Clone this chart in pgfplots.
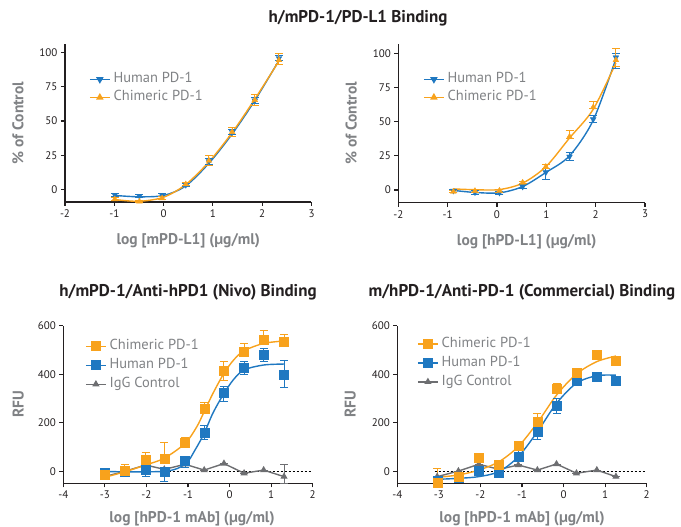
\documentclass[border=0pt]{standalone}
\usepackage{pgfplots}
\usepackage{pgfplotstable}
\pgfplotsset{compat=1.18}
\usepackage{fontspec}
\setmainfont{PT Sans}
\definecolor{pblue}{HTML}{1F78C1}
\definecolor{porange}{HTML}{F8A21C}
\definecolor{pgrayd}{HTML}{6D6E71}
\definecolor{plabel}{HTML}{808285}
\definecolor{ptext}{HTML}{231F20}

% ---- data: x y err+ err- ----
\pgfplotstableread{
x y ep em
-0.99 -4.1 1 1
-0.49 -4.9 1 1
-0.03 -4.1 1 1
0.45 3.2 1 1
0.92 20.5 2 2
1.39 42 2 2
1.85 65 2 2
2.34 96 2 2
}\tlhuman
\pgfplotstableread{
x y ep em
-0.99 -7.3 1 1
-0.49 -9 1 1
-0.03 -6.6 1 1
0.45 3.7 1 1
0.92 21 3.5 3.5
1.39 42 3 3
1.85 65.4 3.7 3.7
2.34 94.6 5 3
}\tlchim
\pgfplotstableread{
x y ep em
-0.885 -0.5 1 1
-0.446 -1.7 1.5 1.5
0.05 -2 1 1
0.52 2.4 1.5 1.5
0.99 12.9 3 5
1.47 24.4 3 3
1.95 51.7 2.5 2.5
2.41 97 3 8
}\trhuman
\pgfplotstableread{
x y ep em
-0.885 -1.2 1 1
-0.446 -0.7 1 1
0.05 -0.5 1 1
0.52 5.4 1 1
0.99 17 1.5 1.5
1.47 39 4.5 1
1.95 60.5 4.5 1
2.41 95 8.6 5
}\trchim
\pgfplotstableread{
x y ep em
-3.01 -15 8 8
-2.52 3 25 3
-2.02 47 30 3
-1.57 51 67 3
-1.07 119 20 3
-0.61 257 27 3
-0.135 413 40 38
0.35 494 33 3
0.82 544 38 3
1.31 533 29 19
}\blchim
\pgfplotstableread{
x y ep em
-3.01 -5 3 3
-2.52 -1 3 6
-2.02 5 3 27
-1.57 -1 3 42
-1.07 43 20 28
-0.61 161 27 28
-0.135 323 26 36
0.35 427 26 30
0.82 479 28 27
1.31 397 58 52
}\blhuman
\pgfplotstableread{
x y ep em
-3.01 -22 0 0
-2.52 0 0 0
-2.02 26 0 0
-1.57 8 0 0
-1.07 29 0 0
-0.61 5 0 0
-0.135 32 0 0
0.35 -8 0 0
0.82 5 0 0
1.31 -22 51 30
}\bligg
\pgfplotstableread{
x y ep em
-3.04 -49 59 3
-2.53 -22 3 3
-2.04 56 3 3
-1.55 26 3 3
-1.09 106 3 3
-0.63 206 33 3
-0.17 340 22 3
0.31 406 3 3
0.80 479 3 3
1.26 454 3 3
}\brchim
\pgfplotstableread{
x y ep em
-3.04 -40 3 3
-2.53 -25 3 3
-2.04 3 3 3
-1.55 -5 3 3
-1.09 60 28 3
-0.63 163 27 30
-0.17 269 32 30
0.31 374 3 3
0.80 390 3 3
1.26 374 3 3
}\brhuman
\pgfplotstableread{
x y ep em
-3.04 -22 0 0
-2.53 1 0 0
-2.04 29 0 0
-1.55 8 0 0
-1.09 26 0 0
-0.63 5 0 0
-0.17 30 0 0
0.31 -8 0 0
0.80 5 0 0
1.26 -22 0 0
}\brigg

\pgfplotsset{
 prism/.style={
  scale only axis,
  axis x line*=bottom, axis y line*=left,
  axis line style={ptext, line width=1.3pt, -},
  every tick/.style={ptext, line width=1.1pt},
  tick align=outside, major tick length=4pt,
  tick label style={font=\fontsize{11}{12}\selectfont, text=ptext},
  /pgf/number format/assume math mode=true,
  xlabel style={font=\bfseries\fontsize{15.5}{17}\selectfont, text=plabel, at={(axis description cs:0.5,0)}, anchor=center},
  ylabel style={font=\bfseries\fontsize{15.5}{17}\selectfont, text=plabel, at={(axis description cs:0,0.5)}, anchor=center},
  title style={font=\bfseries\fontsize{17}{19}\selectfont, text=ptext, at={(axis description cs:0.5,1)}, anchor=center, yshift=27pt},
  legend style={draw=none, fill=none, font=\fontsize{14.5}{16}\selectfont, text=plabel, anchor=north west,
     nodes={inner ysep=0pt, inner xsep=3pt, text height=10pt, text depth=3pt}, row sep=5pt},
  legend cell align=left,
  legend image code/.code={\draw[mark repeat=2,mark phase=2,#1] plot coordinates {(0pt,0pt) (10pt,0pt) (20pt,0pt)};},
  clip=false,
 },
 ebar/.style={error bars/.cd, y dir=both, y explicit,
   error bar style={line width=1pt}, error mark options={rotate=90, mark size=4pt, line width=1pt}},
 curve/.style={line width=1.4pt, smooth, no marks, forget plot},
}

\begin{document}
\begin{tikzpicture}[x=1pt,y=1pt]
\useasboundingbox (0,0) rectangle (681,527);
\node[font=\bfseries\fontsize{17}{19}\selectfont, text=ptext] at (358,509) {h/mPD-1/PD-L1 Binding};

% ---------- top left ----------
\begin{axis}[prism, at={(65pt,325pt)}, anchor=south west, width=246.5pt, height=158pt,
  xmin=-2, xmax=3, ymin=-9.3, ymax=106.4,
  xtick={-2,-1,0,1,2,3}, xticklabels={-2,-1,0,1,2,3},
  ytick={0,25,50,75,100},
  xlabel={log [mPD-L1] (µg/ml)}, ylabel={\% of Control},
  xlabel style={yshift=-39pt}, ylabel style={yshift=47pt},
  legend style={at={(0.085,0.831)}}]
\addplot[curve, pblue] coordinates {(-0.99,-4.5) (-0.5,-5.5) (0,-4.5) (0.45,2.5) (0.93,19.5) (1.4,41) (1.85,65) (2.35,95)};
\addplot[curve, porange] coordinates {(-0.99,-7.5) (-0.5,-8.8) (0,-5.8) (0.45,3.5) (0.93,20.5) (1.4,42) (1.85,66) (2.35,94.5)};
\addplot[only marks, pblue, mark=triangle*, mark options={rotate=180, mark size=3.3pt}, forget plot, ebar]
  table[x=x, y=y, y error plus=ep, y error minus=em] {\tlhuman};
\addplot[only marks, porange, mark=triangle*, mark options={mark size=3.3pt}, forget plot, ebar]
  table[x=x, y=y, y error plus=ep, y error minus=em] {\tlchim};
\addlegendimage{pblue, line width=1.4pt, mark=triangle*, mark options={rotate=180, mark size=3pt}}
\addlegendentry{Human PD-1}
\addlegendimage{porange, line width=1.4pt, mark=triangle*, mark options={mark size=3pt}}
\addlegendentry{Chimeric PD-1}
\end{axis}

% ---------- top right ----------
\begin{axis}[prism, at={(398.3pt,324.3pt)}, anchor=south west, width=246.7pt, height=158.7pt,
  xmin=-2, xmax=3, ymin=-9.3, ymax=106.8,
  xtick={-2,-1,0,1,2,3}, xticklabels={-2,-1,0,1,2,3},
  ytick={0,25,50,75,100},
  xlabel={log [hPD-L1] (µg/ml)}, ylabel={\% of Control},
  xlabel style={yshift=-39pt, xshift=5pt}, ylabel style={yshift=47pt},
  legend style={at={(0.088,0.832)}}]
\addplot[curve, pblue] coordinates {(-0.885,-0.3) (-0.45,-1.8) (0.05,-2.1) (0.52,2.5) (0.99,12.8) (1.47,25) (1.95,51) (2.41,96)};
\addplot[curve, porange] coordinates {(-0.885,0.8) (-0.45,0.2) (0.05,0.3) (0.52,5) (0.99,17) (1.47,38) (1.95,59) (2.41,93)};
\addplot[only marks, pblue, mark=triangle*, mark options={rotate=180, mark size=3.3pt}, forget plot, ebar]
  table[x=x, y=y, y error plus=ep, y error minus=em] {\trhuman};
\addplot[only marks, porange, mark=triangle*, mark options={mark size=3.3pt}, forget plot, ebar]
  table[x=x, y=y, y error plus=ep, y error minus=em] {\trchim};
\addlegendimage{pblue, line width=1.4pt, mark=triangle*, mark options={rotate=180, mark size=3pt}}
\addlegendentry{Human PD-1}
\addlegendimage{porange, line width=1.4pt, mark=triangle*, mark options={mark size=3pt}}
\addlegendentry{Chimeric PD-1}
\end{axis}

% ---------- bottom left ----------
\begin{axis}[prism, at={(63.3pt,43.7pt)}, anchor=south west, width=249.4pt, height=157.6pt,
  xmin=-4, xmax=2, ymin=-49.4, ymax=600,
  xtick={-4,-3,-2,-1,0,1,2}, xticklabels={-4,-3,-2,-1,0,1,2},
  ytick={0,200,400,600},
  title={h/mPD-1/Anti-hPD1 (Nivo) Binding},
  xlabel={log [hPD-1 mAb] (µg/ml)}, ylabel={RFU},
  xlabel style={yshift=-35pt, xshift=4pt}, ylabel style={yshift=45pt},
  legend style={at={(0.075,0.925)}, row sep=6pt}]
\addplot[black, line width=0.9pt, dash pattern=on 2pt off 2pt, forget plot] coordinates {(-3.1,0) (2,0)};
\addplot[pgrayd, line width=1.4pt, mark=triangle*, mark options={mark size=2.8pt}, forget plot, ebar]
  table[x=x, y=y, y error plus=ep, y error minus=em] {\bligg};
\addplot[curve, pblue] coordinates {(-3.01,-1) (-1.57,0) (-1.07,29) (-0.83,88) (-0.61,157) (-0.4,240) (-0.135,321) (0.1,379) (0.35,418) (0.82,438) (1.31,442)};
\addplot[curve, porange] coordinates {(-3.01,-25) (-2.52,-2) (-2.02,26) (-1.57,54) (-1.07,115) (-0.79,183) (-0.61,246) (-0.4,321) (-0.135,404) (0.1,459) (0.35,497) (0.82,527) (1.31,537)};
\addplot[only marks, pblue, mark=square*, mark options={mark size=4.5pt}, forget plot, ebar]
  table[x=x, y=y, y error plus=ep, y error minus=em] {\blhuman};
\addplot[only marks, porange, mark=square*, mark options={mark size=4.5pt}, forget plot, ebar]
  table[x=x, y=y, y error plus=ep, y error minus=em] {\blchim};
\addlegendimage{porange, line width=1.4pt, mark=square*, mark options={mark size=4.3pt}}
\addlegendentry{Chimeric PD-1}
\addlegendimage{pblue, line width=1.4pt, mark=square*, mark options={mark size=4.3pt}}
\addlegendentry{Human PD-1}
\addlegendimage{pgrayd, line width=1.4pt, mark=triangle*, mark options={mark size=2.8pt}}
\addlegendentry{IgG Control}
\end{axis}

% ---------- bottom right ----------
\begin{axis}[prism, at={(397.3pt,43.7pt)}, anchor=south west, width=249.4pt, height=157.6pt,
  xmin=-4, xmax=2, ymin=-49.4, ymax=600,
  xtick={-4,-3,-2,-1,0,1,2}, xticklabels={-4,-3,-2,-1,0,1,2},
  ytick={0,200,400,600},
  title={m/hPD-1/Anti-PD-1 (Commercial) Binding},
  xlabel={log [hPD-1 mAb] (µg/ml)}, ylabel={RFU},
  xlabel style={yshift=-35pt}, ylabel style={yshift=47pt},
  legend style={at={(0.067,0.94)}, row sep=6pt}]
\addplot[black, line width=0.9pt, dash pattern=on 2pt off 2pt, forget plot] coordinates {(-3.1,0) (2,0)};
\addplot[pgrayd, line width=1.4pt, mark=triangle*, mark options={mark size=2.8pt}, forget plot, ebar]
  table[x=x, y=y, y error plus=ep, y error minus=em] {\brigg};
\addplot[curve, pblue] coordinates {(-3.04,-33) (-2.53,-29) (-2.04,-22) (-1.55,-1) (-1.09,60) (-0.63,163) (-0.17,280) (0.31,363) (0.8,394) (1.26,396)};
\addplot[curve, porange] coordinates {(-3.04,-25) (-2.53,-15) (-2.04,5) (-1.55,40) (-1.09,102) (-0.63,200) (-0.17,314) (0.31,401) (0.8,452) (1.26,475)};
\addplot[only marks, pblue, mark=square*, mark options={mark size=4.5pt}, forget plot, ebar]
  table[x=x, y=y, y error plus=ep, y error minus=em] {\brhuman};
\addplot[only marks, porange, mark=square*, mark options={mark size=4.5pt}, forget plot, ebar]
  table[x=x, y=y, y error plus=ep, y error minus=em] {\brchim};
\addlegendimage{porange, line width=1.4pt, mark=square*, mark options={mark size=4.3pt}}
\addlegendentry{Chimeric PD-1}
\addlegendimage{pblue, line width=1.4pt, mark=square*, mark options={mark size=4.3pt}}
\addlegendentry{Human PD-1}
\addlegendimage{pgrayd, line width=1.4pt, mark=triangle*, mark options={mark size=2.8pt}}
\addlegendentry{IgG Control}
\end{axis}
\end{tikzpicture}
\end{document}
